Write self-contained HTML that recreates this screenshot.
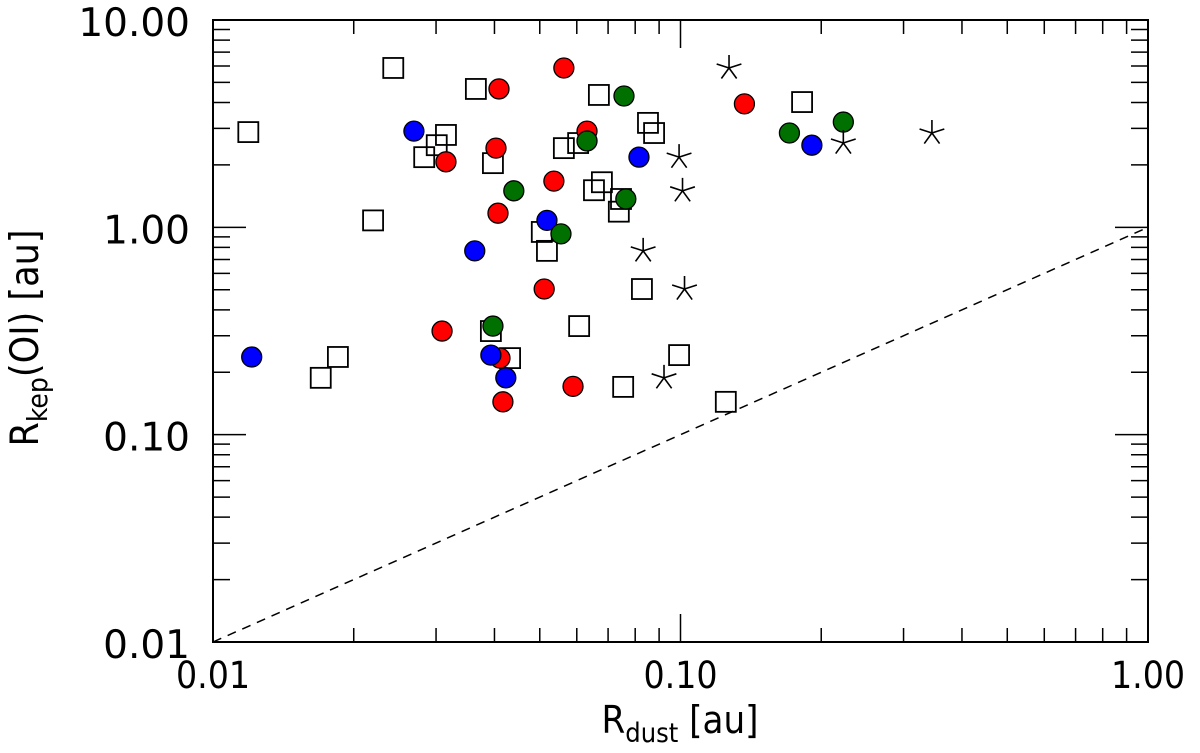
<!DOCTYPE html>
<html><head><meta charset="utf-8"><style>
body{margin:0;background:#fff}
svg text{font-family:"DejaVu Sans Condensed","DejaVu Sans","Liberation Sans",sans-serif;fill:#000}
svg text.ylab{font-family:"DejaVu Sans","Liberation Sans",sans-serif}
</style></head><body>
<svg id="chart" width="1200" height="748" viewBox="0 0 1200 748" xmlns="http://www.w3.org/2000/svg">
<g id="plot"></g>
<text x="680" y="733" font-size="38" text-anchor="middle">R<tspan font-size="27" dy="9">dust</tspan><tspan dy="-9"> [au]</tspan></text>
<text transform="translate(38,338) rotate(-90)" font-size="39" text-anchor="middle">R<tspan font-size="28" dy="9">kep</tspan><tspan dy="-9">(OI) [au]</tspan></text>
</svg>
<script>
const squaresX=[0.0119,0.0243,0.0220,0.0365,0.0315,0.0301,0.0283,0.0397,0.0563,0.0604,0.0669,0.0679,0.0653,0.0738,0.0746,0.0852,0.0878,0.0505,0.0518,0.182,0.0170,0.0185,0.0393,0.0432,0.0607,0.0827,0.0754,0.0993,0.125];
const squaresY=[2.88,5.87,1.08,4.65,2.79,2.49,2.18,2.04,2.41,2.55,4.35,1.65,1.51,1.19,1.37,3.19,2.85,0.95,0.77,4.02,0.188,0.237,0.316,0.234,0.334,0.504,0.170,0.242,0.144];
const redX=[0.0563,0.0409,0.137,0.0631,0.0403,0.0315,0.0536,0.0407,0.0511,0.0309,0.0411,0.0589,0.0417];
const redY=[5.87,4.65,3.94,2.91,2.41,2.07,1.67,1.17,0.504,0.316,0.234,0.171,0.144];
const blueX=[0.0269,0.0815,0.191,0.0518,0.0363,0.0121,0.0393,0.0423];
const blueY=[2.91,2.18,2.49,1.08,0.77,0.237,0.242,0.188];
const greenX=[0.0757,0.0631,0.0440,0.0764,0.0555,0.0397,0.171,0.223];
const greenY=[4.30,2.61,1.50,1.37,0.93,0.334,2.85,3.22];
const starsX=[0.127,0.0993,0.101,0.0832,0.102,0.0922,0.223,0.345];
const starsY=[5.87,2.18,1.50,0.77,0.504,0.188,2.55,2.85];
const xTickLabels=["0.01","0.10","1.00"];
const yTickLabels=["0.01","0.10","1.00","10.00"];

const L=213,R=1148,T=20,B=642;
const sx=v=>L+(Math.log10(v)+2)/2*(R-L);
const sy=v=>B-(Math.log10(v)+2)/3*(B-T);
const NS="http://www.w3.org/2000/svg";
const g=document.getElementById('plot');
function mk(tag,attrs){const e=document.createElementNS(NS,tag);for(const k in attrs)e.setAttribute(k,attrs[k]);g.appendChild(e);return e;}

let fr=mk('rect',{x:L,y:T,width:R-L,height:B-T,fill:'none',stroke:'#000','stroke-width':2});



for(let d=-2;d<0;d++){for(let m=1;m<10;m++){const v=m*Math.pow(10,d);const x=sx(v);const len=m===1?28:14;
 if(m===1&&d===-2)continue;
 let t=mk('path',{d:`M${x},${B}v${-len}M${x},${T}v${len}`,stroke:'#000','stroke-width':1.5});
 
 }}
for(let d=-2;d<1;d++){for(let m=1;m<10;m++){const v=m*Math.pow(10,d);const y=sy(v);const len=m===1?33:17;
 if(m===1&&d===-2)continue;
 let t=mk('path',{d:`M${L},${y}h${len}M${R},${y}h${-len}`,stroke:'#000','stroke-width':1.5});
 
 }}
xTickLabels.forEach(s=>{let t=mk('text',{x:sx(parseFloat(s)),y:B+46,'font-size':37,'text-anchor':'middle'});t.textContent=s;
 
 });
yTickLabels.forEach(s=>{let t=mk('text',{x:L-23,y:sy(parseFloat(s))+16,'font-size':39,'text-anchor':'end','class':'ylab'});t.textContent=s;
 
 });

let dl=mk('line',{x1:sx(0.01),y1:sy(0.01),x2:sx(1),y2:sy(1),stroke:'#000','stroke-width':1.5,'stroke-dasharray':'9,7'});



squaresX.forEach((v,i)=>{let r=mk('rect',{x:sx(v)-10,y:sy(squaresY[i])-10,width:20,height:20,fill:'none',stroke:'#000','stroke-width':1.8});
 
 });
[[redX,redY,'#ff0000','red-point'],[blueX,blueY,'#0000ff','blue-point'],[greenX,greenY,'#007000','green-point']].forEach(([X,Y,c,n])=>{
 X.forEach((v,i)=>{let e=mk('circle',{cx:sx(v),cy:sy(Y[i]),r:10,fill:c,stroke:'#000','stroke-width':1.3});
 
 });});
starsX.forEach((v,i)=>{const cx=sx(v),cy=sy(starsY[i]);let d='';
 for(let k=0;k<5;k++){const a=-Math.PI/2+k*2*Math.PI/5;d+=`M${cx},${cy}L${cx+13*Math.cos(a)},${cy+13*Math.sin(a)}`;}
 let s=mk('path',{d:d,stroke:'#000','stroke-width':1.6,fill:'none'});
 
 });
</script>
</body></html>
